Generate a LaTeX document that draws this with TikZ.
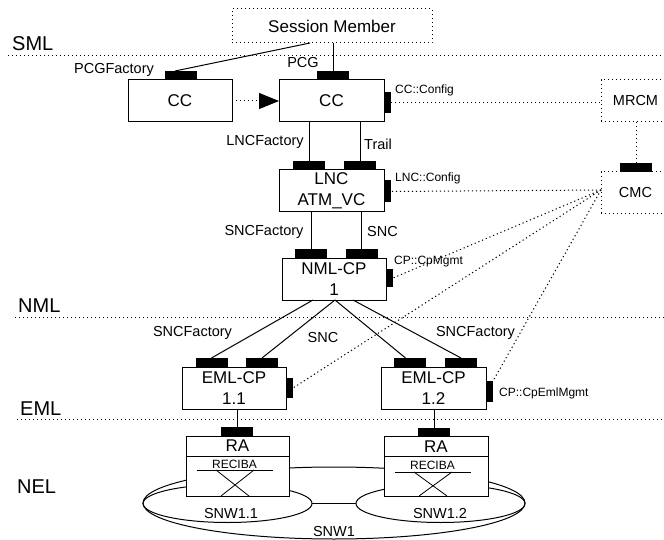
\documentclass[tikz,border=0pt]{standalone}
\usepackage{fontspec}
\setmainfont{Liberation Sans}
\usetikzlibrary{calc,arrows.meta,shapes.geometric}
\begin{document}
\begin{tikzpicture}[x=1pt,y=-1pt,
  big/.style={font=\fontsize{17}{21.5}\selectfont},
  mid/.style={font=\fontsize{14.5}{16}\selectfont, inner sep=0pt},
  small/.style={font=\fontsize{12}{14}\selectfont, inner sep=0pt},
  layer/.style={font=\fontsize{20}{22}\selectfont, inner sep=0pt, anchor=base west},
  box/.style={draw, line width=1pt, fill=white, inner sep=0pt, outer sep=0pt, align=center, big},
  dots/.style={line width=1pt, dash pattern=on 1.2pt off 2.8pt},
  dbox/.style={draw, dots, inner sep=0pt, outer sep=0pt, mid},
  porth/.style={fill=black, inner sep=0pt, outer sep=0pt, minimum width=32pt, minimum height=9pt},
  portv/.style={fill=black, inner sep=0pt, outer sep=0pt, minimum width=7pt, minimum height=20pt},
  link/.style={line width=1pt},
  thinl/.style={line width=0.8pt},
  subnet/.style={draw, line width=1pt, ellipse, inner sep=0pt, outer sep=0pt}
]
\useasboundingbox (0,0) rectangle (664,540);

% management layer separators
\draw[dots] (8,56) -- (664,56);
\draw[dots] (15,317) -- (664,317);
\draw[dots] (17,419) -- (664,419);
\node[layer] (sml) at (12,51) {SML};
\node[layer] (nmll) at (18,312) {NML};
\node[layer] (emll) at (20,415) {EML};
\node[layer] (nel) at (17,493) {NEL};

% session level
\node[dbox, font=\fontsize{17}{20}\selectfont, minimum width=200pt, minimum height=34pt] (sm) at (332,26) {Session Member};
\node[box, minimum width=104pt, minimum height=42pt] (cc1) at (180,101) {CC};
\node[box, minimum width=105pt, minimum height=42pt] (cc2) at (331.5,101) {CC};
\node[porth] (pcgf) at (181,75.5) {};
\node[porth] (pcg) at (333,75.5) {};
\node[portv, minimum height=21pt] (ccconf) at (387.5,102.5) {};
\node[mid] (pcgft) at (114,70) {PCGFactory};
\node[mid] (pcgt) at (303,63) {PCG};
\node[small, anchor=west] (ccconft) at (395,90) {CC::Config};

\draw[link] ($(sm.south)+(-22,0)$) -- ($(pcgf.north)+(-6,0)$);
\draw[link] (sm.south -| pcg) -- (pcg.north);
\draw[dots, -{Triangle[length=20pt,width=16pt]}] (cc1.east) -- (cc2.west);

% configuration managers
\node[dbox, minimum width=69pt, minimum height=42pt] (mrcm) at (635.5,101) {MRCM};
\node[dbox, minimum width=69pt, minimum height=42pt] (cmc) at (635.5,193) {CMC};
\node[porth] (cmcp) at (636,167.5) {};
\draw[dots] (ccconf.east) -- (ccconf.east -| mrcm.west);
\draw[dots] (mrcm.south -| cmcp) -- (cmcp.north);

% link connection
\node[box, minimum width=105pt, minimum height=42pt] (lnc) at (331.5,191) {LNC\\ATM\_VC};
\node[porth] (lncf) at (309,165.5) {};
\node[porth] (trail) at (360,165.5) {};
\node[portv, minimum height=22pt] (lncconf) at (387.5,191.5) {};
\draw[link] (cc2.south -| lncf) -- (lncf.north);
\draw[link] (cc2.south -| trail) -- (trail.north);
\node[mid] (lncft) at (265,142) {LNCFactory};
\node[mid, anchor=west] (trailt) at (364,144) {Trail};
\node[small, anchor=west] (lncconft) at (395,178) {LNC::Config};

% network level connection performer
\node[box, minimum width=104pt, minimum height=42pt] (nml) at (334,279) {NML-CP\\1};
\node[porth] (snf) at (311,253.5) {};
\node[porth] (snc) at (361.5,253.5) {};
\node[portv, minimum height=18pt] (cpm) at (389.5,278) {};
\draw[link] (lnc.south -| snf) -- (snf.north);
\draw[link] (lnc.south -| snc) -- (snc.north);
\node[mid] (snft) at (264,232) {SNCFactory};
\node[mid, anchor=west] (snct) at (367,232) {SNC};
\node[small, anchor=west] (cpmt) at (394,262) {CP::CpMgmt};

% element level connection performers
\node[box, minimum width=104pt, minimum height=42pt] (eml1) at (234,388) {EML-CP\\1.1};
\node[porth] (e1a) at (211.5,362.5) {};
\node[porth] (e1b) at (262,362.5) {};
\node[portv] (e1s) at (289.5,388) {};
\node[box, minimum width=105pt, minimum height=42pt] (eml2) at (433.5,388) {EML-CP\\1.2};
\node[porth] (e2a) at (409.5,362.5) {};
\node[porth] (e2b) at (461,362.5) {};
\node[portv, minimum height=21pt] (e2s) at (489.5,391.5) {};
\node[small, anchor=west] (e2st) at (499,393) {CP::CpEmlMgmt};

\draw[link] ($(nml.south)+(-21,0)$) -- (e1a.north);
\draw[link] ($(nml.south)+(1,0)$) -- (e1b.north);
\draw[link] ($(nml.south)+(1,0)$) -- ($(e2a.north)+(-4,0)$);
\draw[link] ($(nml.south)+(19,0)$) -- (e2b.north);
\node[mid] (snf2t) at (192.5,333) {SNCFactory};
\node[mid] (snc2t) at (323,338) {SNC};
\node[mid] (snf3t) at (475.5,333) {SNCFactory};

% management associations fanning out of the CMC
\coordinate (fan) at ($(cmc.west)+(0,-3)$);
\draw[dots] (fan) -- (lncconf.east);
\draw[dots] (fan) -- (cpm.east);
\draw[dots] (fan) -- (e1s.east);
\draw[dots] (fan) -- (e2s.north east);

% subnetworks
\node[subnet, minimum width=382pt, minimum height=72pt] (snw1) at (334,503) {};
\node[subnet, minimum width=169pt, minimum height=38pt] (snw11) at (227.5,503.5) {};
\node[subnet, minimum width=169pt, minimum height=38pt] (snw12) at (440.5,503.5) {};
\draw[link] (snw11.east) -- (snw12.west);
\node[mid] (snw11t) at (231,514) {SNW1.1};
\node[mid] (snw12t) at (440,514) {SNW1.2};
\node[mid] (snw1t) at (334,532) {SNW1};

% resource adapters
\node[box, minimum width=103pt, minimum height=60pt] (ra1) at (237.5,466) {};
\node[box, minimum width=104pt, minimum height=60pt] (ra2) at (436,466.5) {};
\draw[link] ($(ra1.north west)+(0,20)$) -- ($(ra1.north east)+(0,20)$);
\draw[link] ($(ra2.north west)+(0,20)$) -- ($(ra2.north east)+(0,20)$);
\node[big, inner sep=0pt] (ra1t) at (237.5,446) {RA};
\node[big, inner sep=0pt] (ra2t) at (436,447) {RA};
\node[porth] (ra1p) at (237,431.5) {};
\node[porth] (ra2p) at (434,432) {};
\draw[link] (eml1.south -| ra1p) -- (ra1p.north);
\draw[link] (eml2.south -| ra2p) -- (ra2p.north);

% cross-connect symbols
\node[small] (rec1) at (234.5,464) {RECIBA};
\node[small] (rec2) at (432.5,465) {RECIBA};
\draw[thinl] ($(rec1)+(-38,6)$) -- ($(rec1)+(38,6)$);
\draw[thinl] ($(rec2)+(-38,7)$) -- ($(rec2)+(38,7)$);
\coordinate (x1) at (235,483);
\coordinate (x2) at (433,484);
\draw[thinl] ($(x1)+(-14,13)$) -- ($(x1)+(19,-13)$);
\draw[thinl] ($(x1)+(14,13)$) -- ($(x1)+(-19,-13)$);
\draw[thinl] ($(x2)+(-14,12)$) -- ($(x2)+(19,-12)$);
\draw[thinl] ($(x2)+(14,12)$) -- ($(x2)+(-19,-12)$);
\end{tikzpicture}
\end{document}
